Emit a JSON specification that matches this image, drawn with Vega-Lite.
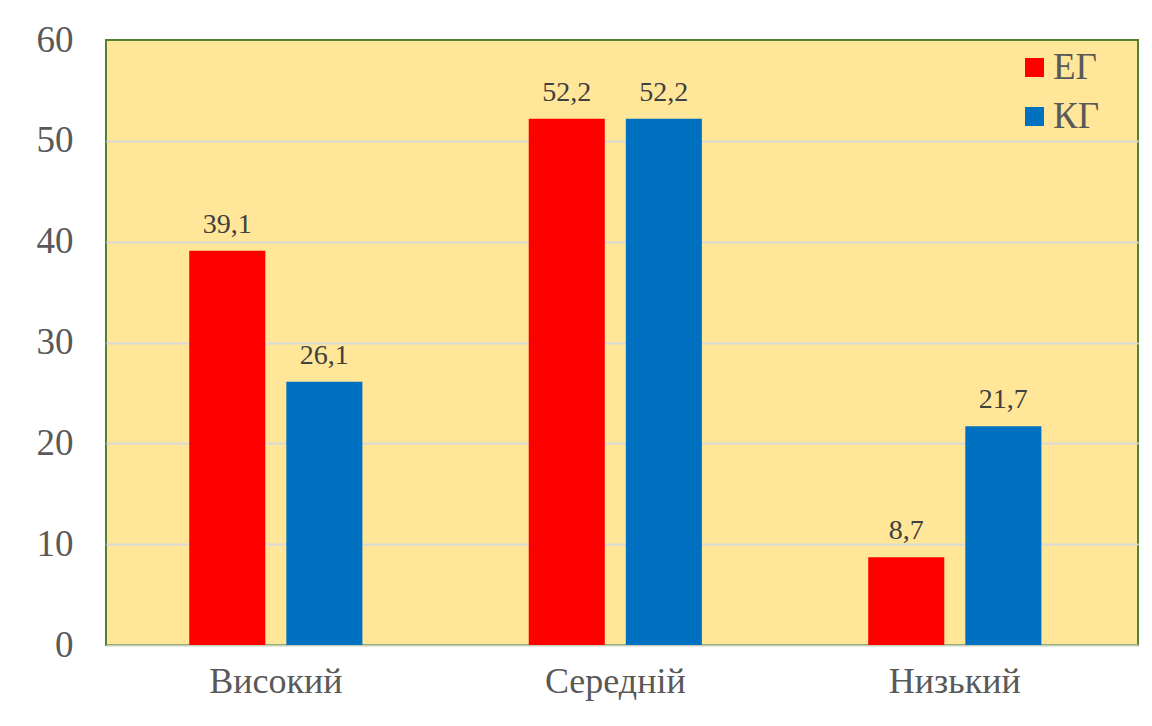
{
  "$schema": "https://vega.github.io/schema/vega-lite/v6.json",
  "width": 1032,
  "height": 605,
  "autosize": {"type": "none"},
  "padding": {"left": 106, "top": 40, "right": 14, "bottom": 81},
  "background": "#FFFFFF",
  "config": {
    "font": "Liberation Serif",
    "locale": {"number": {"decimal": ",", "thousands": " ", "grouping": [3], "currency": ["", ""]}},
    "view": {"fill": "#FFE699", "stroke": "#548235", "strokeWidth": 2}
  },
  "data": {
    "values": [
      {"level": "Високий", "group": "ЕГ", "value": 39.1},
      {"level": "Високий", "group": "КГ", "value": 26.1},
      {"level": "Середній", "group": "ЕГ", "value": 52.2},
      {"level": "Середній", "group": "КГ", "value": 52.2},
      {"level": "Низький", "group": "ЕГ", "value": 8.7},
      {"level": "Низький", "group": "КГ", "value": 21.7}
    ]
  },
  "encoding": {
    "x": {
      "field": "level", "type": "nominal", "sort": ["Високий", "Середній", "Низький"],
      "scale": {"paddingInner": 0.49, "paddingOuter": 0.2649, "align": 0.4628},
      "axis": {"title": null, "labelAngle": 0, "labelFontSize": 36, "labelColor": "#595959", "labelPadding": 19, "ticks": false, "domainColor": "#C9CFBA", "domainWidth": 2}
    },
    "xOffset": {"field": "group", "type": "nominal", "sort": ["ЕГ", "КГ"], "scale": {"paddingInner": 0.2165, "paddingOuter": 0}},
    "y": {
      "field": "value", "type": "quantitative",
      "scale": {"domain": [0, 60], "nice": false},
      "axis": {"title": null, "values": [0, 10, 20, 30, 40, 50, 60], "labelFontSize": 37, "labelColor": "#595959", "labelPadding": 33, "ticks": false, "domain": false, "gridColor": "#D9D9D9", "gridWidth": 2,
        "gridOpacity": {"condition": {"test": "datum.value === 0 || datum.value === 60", "value": 0}, "value": 1}}
    }
  },
  "layer": [
    {
      "mark": {"type": "bar"},
      "encoding": {
        "color": {
          "field": "group", "type": "nominal", "sort": ["ЕГ", "КГ"],
          "scale": {"domain": ["ЕГ", "КГ"], "range": ["#FF0000", "#0070C0"]},
          "legend": {"title": null, "orient": "none", "legendX": 910, "legendY": 9, "padding": 0, "symbolType": "square", "symbolSize": 361, "symbolStrokeWidth": 0, "labelFontSize": 37, "labelColor": "#595959", "rowPadding": 11, "symbolOffset": 0, "labelOffset": 0}
        }
      }
    },
    {
      "mark": {"type": "text", "baseline": "alphabetic", "dy": -18, "fontSize": 28, "color": "#404040"},
      "encoding": {"text": {"field": "value", "type": "quantitative", "format": ".1f"}}
    }
  ]
}
